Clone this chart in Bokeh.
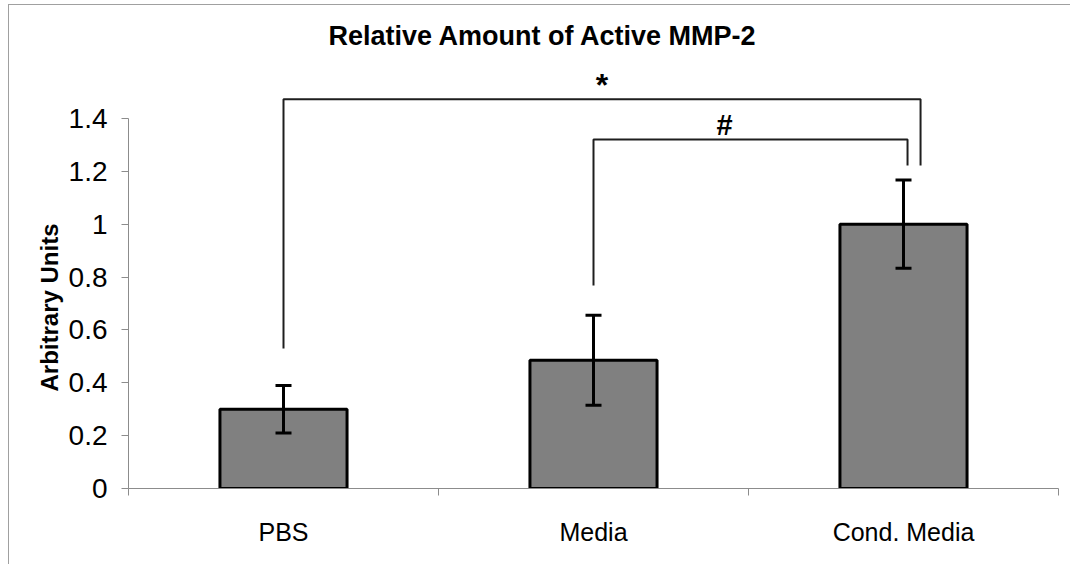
from bokeh.plotting import figure
from bokeh.models import (Range1d, LinearAxis, FixedTicker, Whisker, ColumnDataSource, TeeHead, Title)
from bokeh.core.properties import value
from bokeh.embed import file_html
from bokeh.resources import INLINE

# ---- data ----
categories = ["PBS", "Media", "Cond. Media"]
values = [0.30, 0.485, 1.00]
errors = [0.09, 0.17, 0.167]
y_ticks = [0, 0.2, 0.4, 0.6, 0.8, 1.0, 1.2, 1.4]
y_tick_labels = ["0", "0.2", "0.4", "0.6", "0.8", "1", "1.2", "1.4"]
title_text = "Relative Amount of Active MMP-2"
y_label = "Arbitrary Units"
# significance brackets
bracket_left = ["PBS", "Media"]
bracket_right = ["Cond. Media", "Cond. Media"]
bracket_top = [1.472, 1.32]
bracket_left_low = [0.53, 0.768]
bracket_right_low = [1.222, 1.222]
bracket_marks = ["*", "#"]

# ---- styles ----
FONT = "Liberation Sans"
AXIS_GREY = "#8c8c8c"
right_leg_shift = [0.055, 0.013]      # small horizontal offsets of the right legs
mark_x_offset = [0, -26]
mark_y_offset = [-14, -15]
mark_size = ["32px", "29px"]

n = len(categories)
centers = [i + 0.5 for i in range(n)]      # category slots on the x scale
edges = list(range(n + 1))
pos = dict(zip(categories, centers))

p = figure(width=1062, height=560, output_backend="svg", toolbar_location=None,
           x_range=Range1d(0, n), y_range=Range1d(0, 1.619),
           x_axis_location=None, y_axis_location=None,
           min_border_left=119, min_border_right=13, min_border_top=55, min_border_bottom=77,
           title=title_text)
p.styles = {"border-top": "1px solid #a0a0a0", "border-left": "1px solid #a0a0a0",
            "margin-left": "8px", "margin-top": "4px"}
p.grid.visible = False
p.outline_line_color = None
p.background_fill_color = "white"
p.border_fill_color = "white"

p.title.align = "left"
p.title.offset = 200
p.title.text_font = FONT
p.title.text_font_size = "27px"
p.title.text_font_style = "bold"
p.title.text_color = "black"
p.title.standoff = 19

# y axis
yaxis = LinearAxis(ticker=FixedTicker(ticks=y_ticks, minor_ticks=[]), bounds=(0, 1.4),
                   major_label_overrides={t: l for t, l in zip(y_ticks, y_tick_labels)})
yaxis.axis_line_color = AXIS_GREY
yaxis.major_tick_line_color = AXIS_GREY
yaxis.major_tick_out = 7
yaxis.major_tick_in = 0
yaxis.minor_tick_line_color = None
yaxis.major_label_text_font = FONT
yaxis.major_label_text_font_size = "28px"
yaxis.major_label_text_color = "black"
yaxis.major_label_standoff = 14
p.add_layout(yaxis, "left")

# y axis title (vertical), placed around the middle of the labelled axis part
ytitle = Title(text=y_label, align="left", offset=97, standoff=6,
               text_font=FONT, text_font_size="24px", text_font_style="bold",
               text_color="black")
p.add_layout(ytitle, "left")

# x axis: labels at category centres, tick marks on the boundaries
xaxis = LinearAxis(ticker=FixedTicker(ticks=centers, minor_ticks=edges),
                   major_label_overrides={c: k for c, k in zip(centers, categories)})
xaxis.axis_line_color = AXIS_GREY
xaxis.major_tick_line_color = None
xaxis.major_tick_out = 0
xaxis.major_tick_in = 0
xaxis.minor_tick_line_color = AXIS_GREY
xaxis.minor_tick_out = 7
xaxis.minor_tick_in = 0
xaxis.major_label_text_font = FONT
xaxis.major_label_text_font_size = "25px"
xaxis.major_label_text_color = "black"
xaxis.major_label_standoff = 22
p.add_layout(xaxis, "below")

# bars and error bars
src = ColumnDataSource(dict(x=[pos[c] for c in categories], val=values,
                            upper=[v + e for v, e in zip(values, errors)],
                            lower=[v - e for v, e in zip(values, errors)]))
p.vbar(x="x", top="val", width=0.41, source=src, fill_color="#808080",
       line_color="black", line_width=3)
p.add_layout(Whisker(base="x", upper="upper", lower="lower", source=src, level="overlay",
                     line_color="black", line_width=3,
                     upper_head=TeeHead(size=16, line_color="black", line_width=3),
                     lower_head=TeeHead(size=16, line_color="black", line_width=3)))

# significance brackets
for i in range(len(bracket_marks)):
    xl = pos[bracket_left[i]]
    xr = pos[bracket_right[i]] + right_leg_shift[i]
    p.line(x=[xl, xl, xr, xr],
           y=[bracket_left_low[i], bracket_top[i], bracket_top[i], bracket_right_low[i]],
           line_color="#1e1e1e", line_width=2)
    p.text(x=[(xl + xr) / 2], y=[bracket_top[i]], text=[bracket_marks[i]],
           text_font=value(FONT), text_font_size=mark_size[i], text_font_style="bold",
           text_align="center", text_baseline="alphabetic", x_offset=mark_x_offset[i],
           y_offset=mark_y_offset[i], text_color="black")

open("out.html", "w").write(file_html(p, INLINE))
